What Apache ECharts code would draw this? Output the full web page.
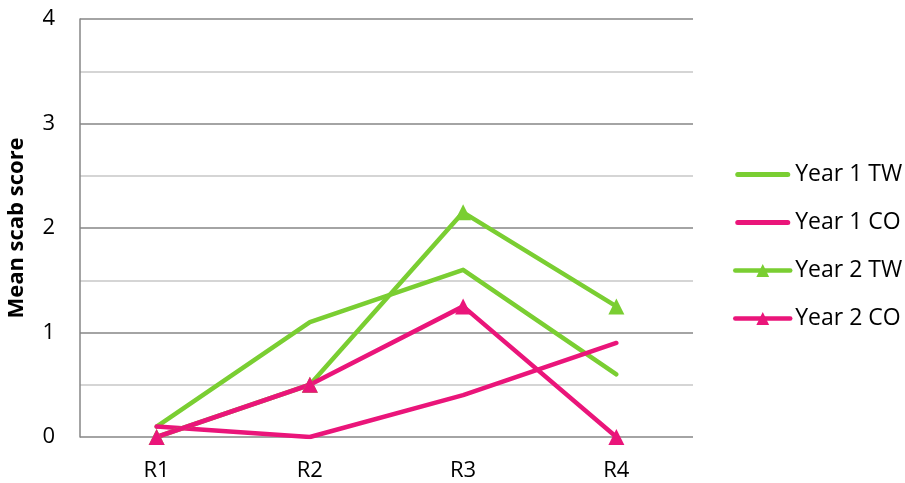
<!DOCTYPE html>
<html>
<head>
<meta charset="utf-8">
<script src="https://cdn.jsdelivr.net/npm/echarts@6/dist/echarts.min.js"></script>
<style>
  html, body { margin: 0; padding: 0; background: #fff; }
  #chart { width: 905px; height: 483px; }
</style>
</head>
<body>
<div id="chart"></div>
<script>
// Rounds of assessment
const rounds = ['R1', 'R2', 'R3', 'R4'];

// Mean scab score per round
const year1TW = [0.1, 1.1, 1.6, 0.6];
const year1CO = [0.1, 0.0, 0.4, 0.9];
const year2TW = [0.0, 0.5, 2.15, 1.25];
const year2CO = [0.0, 0.5, 1.25, 0.0];

const yTicks = [0, 1, 2, 3, 4];

const GREEN = '#7ACE32';
const PINK = '#EA157A';
const FONT = '"Open Sans", "Noto Sans", sans-serif';

// plain thick bar used as the legend key for the unmarked series
const LINE_ICON = 'path://M2.5,0 L52.5,0 A2.5,2.5 0 0 1 52.5,5 L2.5,5 A2.5,2.5 0 0 1 2.5,0 Z';

function lineSeries(name, data, color, marker) {
  return {
    name: name,
    type: 'line',
    data: data,
    color: color,
    symbol: marker ? 'triangle' : 'none',
    symbolSize: 16,
    lineStyle: { width: 4.5, color: color, cap: 'round', join: 'round' },
    itemStyle: { color: color },
    z: marker ? 3 : 2
  };
}

const chart = echarts.init(document.getElementById('chart'));
chart.setOption({
  animation: false,
  grid: { left: 80, top: 19, width: 613, height: 418, containLabel: false, outerBoundsMode: 'none' },
  legend: {
    orient: 'vertical',
    left: 733,
    top: 163,
    padding: 0,
    itemWidth: 55,
    itemHeight: 16,
    itemGap: 25,
    lineStyle: { width: 4.5 },
    textStyle: { fontFamily: FONT, fontSize: 23, color: '#000', padding: [0, 0, 0, 0] },
    data: [
      { name: 'Year 1 TW', icon: LINE_ICON },
      { name: 'Year 1 CO', icon: LINE_ICON },
      { name: 'Year 2 TW' },
      { name: 'Year 2 CO' }
    ]
  },
  xAxis: {
    type: 'category',
    data: rounds,
    boundaryGap: true,
    axisLine: { show: false },
    axisTick: { show: false },
    axisLabel: { fontFamily: FONT, fontSize: 22, color: '#000', margin: 23 }
  },
  yAxis: {
    type: 'value',
    min: 0,
    max: 4,
    interval: 1,
    name: 'Mean scab score',
    nameLocation: 'middle',
    nameGap: 52,
    nameTextStyle: { fontFamily: FONT, fontSize: 22, fontWeight: 'bold', color: '#000' },
    axisLine: { show: true, lineStyle: { color: '#868686', width: 1.5 } },
    axisTick: { show: false },
    axisLabel: {
      fontFamily: FONT, fontSize: 22, color: '#000', margin: 25,
      formatter: v => yTicks.includes(v) ? String(v) : ''
    },
    splitLine: { show: true, lineStyle: { color: '#868686', width: 1.5 } },
    minorTick: { show: false, splitNumber: 2 },
    minorSplitLine: { show: true, lineStyle: { color: '#c8c8c8', width: 1.5 } }
  },
  series: [
    lineSeries('Year 1 TW', year1TW, GREEN, false),
    lineSeries('Year 1 CO', year1CO, PINK, false),
    lineSeries('Year 2 TW', year2TW, GREEN, true),
    lineSeries('Year 2 CO', year2CO, PINK, true)
  ]
});
</script>
</body>
</html>
